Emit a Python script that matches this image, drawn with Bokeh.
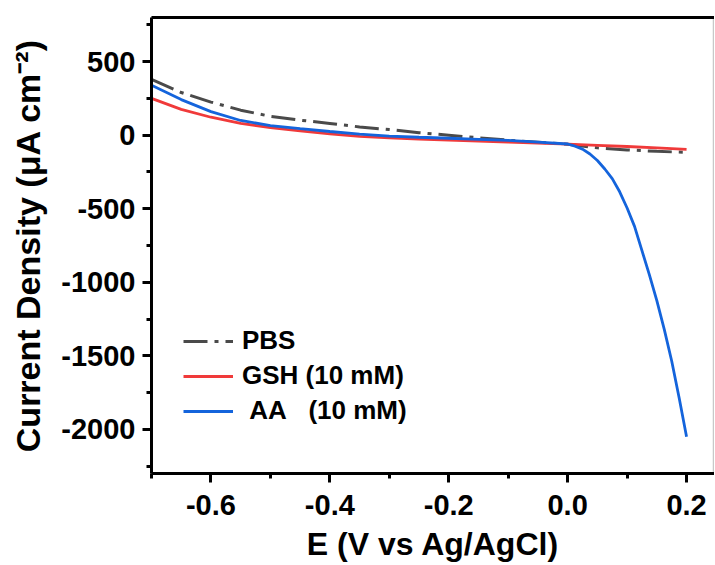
from bokeh.plotting import figure
from bokeh.models import Range1d, FixedTicker, LinearAxis, Legend, LegendItem
from bokeh.embed import file_html
from bokeh.resources import INLINE

# ---- data ----
e_base = [-0.70, -0.65, -0.60, -0.55, -0.50, -0.45, -0.40, -0.35, -0.30, -0.25,
          -0.20, -0.15, -0.10, -0.05, 0.00, 0.05, 0.10, 0.15, 0.20]
pbs = [380, 290, 225, 170, 128, 102, 80, 56, 38, 17,
       0, -18, -34, -48, -62, -86, -100, -110, -117]
gsh = [250, 175, 122, 80, 52, 29, 9, -8, -18, -26,
       -33, -40, -47, -54, -61, -69, -77, -87, -97]

e_aa = [-0.70, -0.65, -0.60, -0.55, -0.50, -0.45, -0.40, -0.35, -0.30, -0.25,
        -0.20, -0.15, -0.10, -0.05, 0.00, 0.0125, 0.025, 0.0375, 0.05, 0.0625,
        0.075, 0.0875, 0.10, 0.1125, 0.125, 0.1375, 0.15, 0.1625, 0.175, 0.1875, 0.20]
aa = [340, 242, 160, 100, 65, 44, 25, 7, -6, -14,
      -21, -28, -36, -47, -60, -75, -95, -128, -172, -230,
      -295, -385, -495, -620, -785, -950, -1125, -1320, -1535, -1785, -2050]

x_ticks = [-0.6, -0.4, -0.2, 0.0, 0.2]
x_tick_labels = ["-0.6", "-0.4", "-0.2", "0.0", "0.2"]
x_minor = [-0.7, -0.5, -0.3, -0.1, 0.1]
y_ticks = [500, 0, -500, -1000, -1500, -2000]
y_tick_labels = ["500", "0", "-500", "-1000", "-1500", "-2000"]
y_minor = [750, 250, -250, -750, -1250, -1750, -2250]

labels = ["PBS", "GSH (10 mM)", "\u00a0AA\u00a0\u00a0\u00a0(10 mM)"]
colors = ["#4a4a4a", "#f03a3a", "#1464dc"]

FONT = "Liberation Sans"

p = figure(width=714, height=564, output_backend="svg", toolbar_location=None,
           x_range=Range1d(-0.70, 0.247), y_range=Range1d(-2300, 800),
           min_border_left=151, min_border_top=17, min_border_right=0,
           min_border_bottom=91)
p.xgrid.visible = False
p.ygrid.visible = False
p.outline_line_color = "#c8c8c8"
p.outline_line_width = 1.5
p.background_fill_color = "white"

r_pbs = p.line(e_base, pbs, line_color=colors[0], line_width=3, line_dash="24 7 4 7")
r_gsh = p.line(e_base, gsh, line_color=colors[1], line_width=2.8)
r_aa = p.line(e_aa, aa, line_color=colors[2], line_width=2.8)

for ax in (p.xaxis[0], p.yaxis[0]):
    ax.axis_line_width = 3
    ax.axis_line_color = "black"
    ax.major_tick_line_width = 3
    ax.minor_tick_line_width = 3
    ax.major_tick_out = 9
    ax.major_tick_in = 0
    ax.minor_tick_out = 5
    ax.minor_tick_in = 0
    ax.major_label_text_font = FONT
    ax.major_label_text_font_style = "bold"
    ax.major_label_text_font_size = "29px"
    ax.major_label_text_color = "black"
    ax.axis_label_text_font = FONT
    ax.axis_label_text_font_style = "bold"
    ax.axis_label_text_color = "black"

p.xaxis[0].ticker = FixedTicker(ticks=x_ticks, minor_ticks=x_minor)
p.xaxis[0].major_label_overrides = dict(zip(x_ticks, x_tick_labels))
p.xaxis[0].axis_label = "E (V vs Ag/AgCl)"
p.xaxis[0].axis_label_text_font_size = "32px"
p.xaxis[0].major_label_standoff = 12
p.xaxis[0].axis_label_standoff = 8

p.yaxis[0].ticker = FixedTicker(ticks=y_ticks, minor_ticks=y_minor)
p.yaxis[0].major_label_overrides = dict(zip(y_ticks, y_tick_labels))
p.yaxis[0].axis_label = "Current Density (\u03bcA cm\u207b\u00b2)"
p.yaxis[0].axis_label_text_font_size = "34px"
p.yaxis[0].major_label_standoff = 7
p.yaxis[0].axis_label_standoff = 11

top = LinearAxis(ticker=FixedTicker(ticks=[]), major_label_text_font_size="0px",
                 axis_line_width=3, axis_line_color="black",
                 major_tick_line_color=None, minor_tick_line_color=None)
p.add_layout(top, "above")

legend = Legend(items=[LegendItem(label=labels[0], renderers=[r_pbs]),
                       LegendItem(label=labels[1], renderers=[r_gsh]),
                       LegendItem(label=labels[2], renderers=[r_aa])],
                location=(32, 47), padding=0, margin=0, spacing=4,
                glyph_width=50, glyph_height=30, label_height=30,
                label_standoff=9, border_line_color=None,
                background_fill_alpha=0,
                label_text_font=FONT, label_text_font_style="bold",
                label_text_font_size="26px", label_text_color="black")
p.add_layout(legend)

open("out.html", "w").write(file_html(p, INLINE))
